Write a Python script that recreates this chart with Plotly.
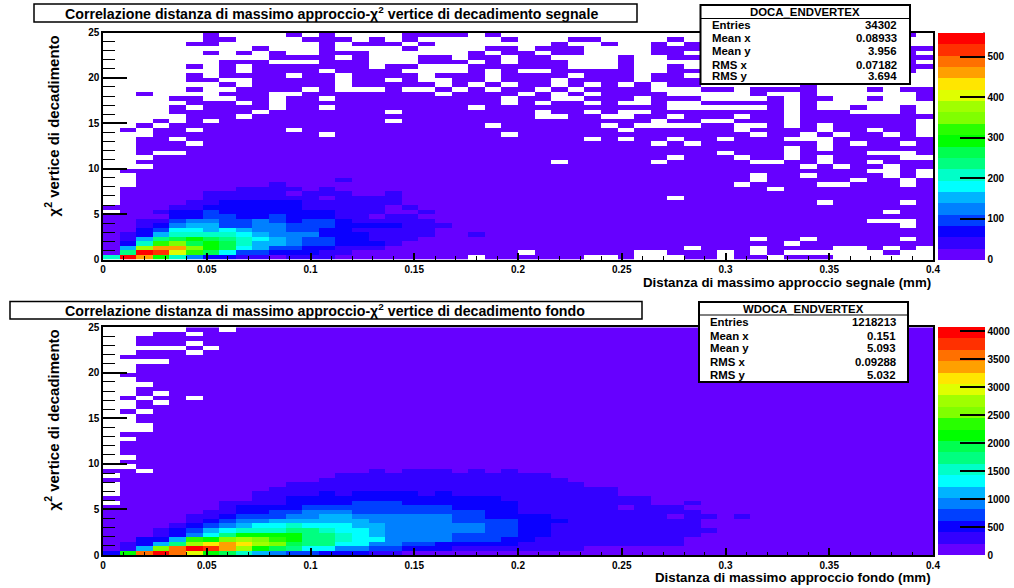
import plotly.graph_objects as go

W, H = 1014, 588
FONT = "Liberation Sans"

# Histogram bins
X_BINS = [0.004 + 0.008 * i for i in range(50)]
Y_BINS = [0.25 + 0.5 * i for i in range(50)]

# ROOT palette: one colour per contour level
PALETTE = ["#6600ff", "#3300ff", "#0a00ff", "#0040ff", "#0080ff", "#00b4ff", "#00ffff",
           "#00ffc8", "#00ff80", "#00ff50", "#00ff00", "#28ff00", "#80ff00", "#a0ff00",
           "#dfff00", "#ffe600", "#ffa000", "#ff7000", "#ff3000", "#ff0000"]
LEVELS = "0123456789abcdefghij"   # contour level per bin, "." means an empty bin

ZMAX_SIG = 560
ZMAX_BKG = 4070
TICKS_SIG = [0, 100, 200, 300, 400, 500]
TICKS_BKG = [0, 500, 1000, 1500, 2000, 2500, 3000, 3500, 4000]

# Signal histogram, top row first, 50 columns
SIGNAL_ROWS = [
    "......0....0.0...." "0000.0............" "............0.",
    "......00....000.0." "0.....0...00....0." "..............",
    ".....00......0.000" ".0.......0..0..0.0" "..............",
    ".........0...0...." "0....00.000....000" "............00",
    "......0.0.0..000.." "....0.00.00....00." "............0.",
    "..........0000.0.." ".00.00.00....0..00" "............00",
    ".......000...000.." ".000.0.000...0...." "............0.",
    ".....0.0.0000000.0" "0...000000...0..0." "............00",
    ".......0.0000.0000" "....0.0..00000..00" "............0.",
    ".....0.0000.00.000" "0.000.0000.000.00." "..............",
    ".....00..00000.00." "0..00.000.0000.000" "..............",
    ".......0.00000.000" "00.0.0.00.0.0.0.00" "......0.......",
    ".....0..0000.0...0" "..0.0.00.0.0000..." "00.0000...0.00",
    "..0....000..000000" "00.0000.0.0.0000.." "...0..0......0",
    "....00..00.00.0000" "000000.00..000.000" "....0.00..0..0",
    ".....000.0.0000000" "000000.0.00.0..0.." "00000.0.......",
    "....0.0000.00.0000" "0000.00000000000.." "....0.0..0..0.",
    "....00000.0000000." "00000000.00.0..000" "00000.000...0.",
    ".....000.000000000" "00000000..00..00.0" "00.00.00000000",
    "...0.0.0000000000." "000000000000000.00" "..000.0000000.",
    "..0.00000000000000" "00000.000000.0...." "00..0.0.00000.",
    ".0.00.00000.000000" "0000000000000.0000" "00.0000.00.00.",
    "...0000000000.0000" "000000.00000000000" "000.00.0.00.0.",
    "..00.0000000000000" "00000000000.0.00.0" "0.000...000000",
    "..000.000000000000" "000000000000000.0." "0000000.0.00.0",
    "..0000000000000000" "000000000000000000" "00000.0.000000",
    "..0..0000000000000" "000000000000000000" "0.000.0000...0",
    "...000000000000000" "0000000000000000.0" "00.00.0.0000..",
    "..0000000000000000" "000000000.00000.00" "000..00.00.000",
    "...000000000000000" "000000000000000000" "000000.0.00.00",
    ".00000000000000000" "000000000000000000" "0000000000..0.",
    "..0000000000000000" "000000000000000000" "000.00.0000.0.",
    "..0000000000001000" "000000000000000000" "000.00000.00.0",
    "..0000000010000000" "000000000000000000" "00.0000..000.0",
    ".00000001111010000" "000000000000000000" "0000.000000000",
    ".00000111110111001" "000000000000000000" "00000000000000",
    ".00000111111101111" "0000000000000000.0" "00000000000000",
    ".00001122222111111" "000000000000000000" "0000000.0000.0",
    "000011222222111110" "100000000000000000" "00000000000000",
    ".00122322222221110" "010000000000000000" "00000000000.00",
    "000022332232221101" "100000000000000000" "00000000000000",
    "001134433432332111" "110000000000000000" "0000000000...0",
    "001245533443332222" "111000000000000000" "000000000000.0",
    "002366565443322111" "110000000000000000" "00000000000000",
    "012577776544422211" "110010000000000000" "00000000000000",
    "01589a987654332211" "100000000000000000" "000.00.00000.0",
    "027bc9a97554332221" "000000000000000000" "00000.00000000",
    "05dggca96533221110" "00000000000000000." "000.0000..0.0.",
    "08jieb963322211000" "0000000.000000..00" "0.0.0......0..",
    "7jga74221101110000" "0000.000000..0...0" "0.00.000......",
]

# Background histogram, top row first; unwritten columns at the end are level 0
BACKGROUND_ROWS = [
    ".....00.", "...00.", "..", "..000.", ".....0.", "..000.", ".", "....", "..", "..",
    ".", "..", "...", "..", "..0.", ".0.00.", "..0.", "..", ".0.", "..", "..",
    "...", "...", ".", "..", ".", ".", ".", "..", ".", "..",
    "00.00000000" "00000101110101",
    ".0000000000" "00011111111111" "11",
    "00000000000" "00111111111111" "111",
    ".0000000000" "11111111111111" "1111",
    ".0000000001" "11111111111111" "111111",
    ".0000000011" "11212222121111" "111111",
    "00000000011" "22222222222221" "11111111",
    ".0000001111" "22223332222222" "11111111001",
    "00000001222" "23333333332222" "1111110111",
    "00000011223" "34443333333322" "11111111111",
    "00000112333" "44554444443322" "22111111101101",
    "00000123445" "55555444443333" "22211111111",
    "00001234566" "76665544444433" "22111111111",
    "00012356777" "88766544444433" "221111111111",
    "00012468aaa" "a8876544443333" "22111111111",
    "00225bacdcb" "a8876644443332" "2111111111",
    "01258dfgfdc" "98866443322222" "1111111111",
    "015chjigda9" "86644332221111" "1111",
    "2ahjhea9754" "33222110000000",
]

SIGNAL_STATS = [("Entries", "34302"), ("Mean x", "0.08933"), ("Mean y", "3.956"),
                ("RMS x", "0.07182"), ("RMS y", "3.694")]
BACKGROUND_STATS = [("Entries", "1218213"), ("Mean x", "0.151"), ("Mean y", "5.093"),
                    ("RMS x", "0.09288"), ("RMS y", "5.032")]

TITLE_SIG = "Correlazione distanza di massimo approccio-χ<sup>2</sup> vertice di decadimento segnale"
TITLE_BKG = "Correlazione distanza di massimo approccio-χ<sup>2</sup> vertice di decadimento fondo"
XTITLE_SIG = "Distanza di massimo approccio segnale (mm)"
XTITLE_BKG = "Distanza di massimo approccio fondo (mm)"
YTITLE = "χ<sup>2</sup> vertice di decadimento"


def px(v):
    return v / W


def py(v):
    return 1 - v / H


def decode(rows, zmax):
    step = zmax / len(PALETTE)
    grid = []
    for row in reversed(rows):
        row = row.ljust(50, "0")[:50]
        grid.append([None if c == "." else (LEVELS.index(c) + 0.5) * step for c in row])
    return grid


def stepped():
    n = len(PALETTE)
    scale = []
    for i, c in enumerate(PALETTE):
        scale += [[i / n, c], [(i + 1) / n, c]]
    return scale


bold = dict(family=FONT, color="black", weight=700)
shapes, notes = [], []


def note(text, x, y, size, xa="left", ya="middle", angle=0):
    notes.append(dict(text=text, x=px(x), y=py(y), xref="paper", yref="paper", showarrow=False,
                      xanchor=xa, yanchor=ya, textangle=angle, align="left",
                      font=dict(size=size, **bold), borderpad=0))


def rect(x0, y0, x1, y1, lw=1.5):
    shapes.append(dict(type="rect", xref="paper", yref="paper", x0=px(x0), x1=px(x1), y0=py(y0), y1=py(y1),
                       fillcolor="white", line=dict(color="black", width=lw), layer="above"))


def hline(x0, x1, y, lw=1):
    shapes.append(dict(type="line", xref="paper", yref="paper", x0=px(x0), x1=px(x1), y0=py(y), y1=py(y),
                       line=dict(color="black", width=lw), layer="above"))


def vline(x, y0, y1, lw=1.5):
    shapes.append(dict(type="line", xref="paper", yref="paper", x0=px(x), x1=px(x), y0=py(y0), y1=py(y1),
                       line=dict(color="black", width=lw), layer="above"))


fig = go.Figure()

PANELS = [
    dict(rows=SIGNAL_ROWS, zmax=ZMAX_SIG, ticks=TICKS_SIG, top=32.5, bottom=259.5, ax="", stats=SIGNAL_STATS,
         title=TITLE_SIG, xtitle=XTITLE_SIG, name="DOCA_ENDVERTEX",
         tbox=(34, 4, 637, 22), box=(700.5, 5, 910, 84), sep=18.5, rowy=[25, 38, 51.5, 64.5, 76],
         tleft=711, tright=898, xty=282, yty=35),
    dict(rows=BACKGROUND_ROWS, zmax=ZMAX_BKG, ticks=TICKS_BKG, top=327.3, bottom=555, ax="2", stats=BACKGROUND_STATS,
         title=TITLE_BKG, xtitle=XTITLE_BKG, name="WDOCA_ENDVERTEX",
         tbox=(10, 301.5, 642, 319), box=(699, 302, 908, 382), sep=315, rowy=[322, 336, 348, 362, 375],
         tleft=709, tright=897, xty=577, yty=329),
]

for p in PANELS:
    ax = p["ax"]
    fig.add_trace(go.Heatmap(
        x=X_BINS, y=Y_BINS, z=decode(p["rows"], p["zmax"]), zmin=0, zmax=p["zmax"],
        colorscale=stepped(), hoverongaps=False, xaxis="x" + ax, yaxis="y" + ax,
        colorbar=dict(
            x=px(937.5), xanchor="left", xref="paper", y=py(p["top"]), yanchor="top", yref="paper",
            lenmode="pixels", len=p["bottom"] - p["top"], thicknessmode="pixels", thickness=46.5,
            outlinewidth=0, ticks="inside", ticklen=25, tickwidth=1.5, tickcolor="black",
            tickvals=p["ticks"], ticktext=[str(t) for t in p["ticks"]], xpad=0, ypad=0,
            tickfont=dict(size=10, **bold)),
    ))
    axis_common = dict(showgrid=False, zeroline=False, showline=True, mirror=True, linecolor="black", linewidth=1.5,
                       ticks="inside", tickcolor="black", tickfont=dict(size=10, **bold))
    fig.layout["xaxis" + ax] = dict(
        axis_common, domain=[px(103), px(933)], range=[0, 0.4], anchor="y" + ax, dtick=0.05, tick0=0,
        ticklen=7, tickwidth=1.5, minor=dict(ticks="inside", ticklen=3.5, dtick=0.01, tickcolor="black", tickwidth=1))
    fig.layout["yaxis" + ax] = dict(
        axis_common, domain=[py(p["bottom"]), py(p["top"])], range=[0, 25], anchor="x" + ax, dtick=5, tick0=0,
        ticklen=24, tickwidth=1.5, minor=dict(ticks="inside", ticklen=12, dtick=1, tickcolor="black", tickwidth=1))

    vline(984, p["top"], p["bottom"])
    x0, y0, x1, y1 = p["tbox"]
    rect(x0, y0, x1, y1)
    note(p["title"], 64, (y0 + y1) / 2, 14.2)
    x0, y0, x1, y1 = p["box"]
    rect(x0, y0, x1, y1, 2)
    hline(x0, x1, p["sep"])
    note(p["name"], (x0 + x1) / 2, (y0 + p["sep"]) / 2 + 0.5, 11.4, "center")
    for (k, v), yy in zip(p["stats"], p["rowy"]):
        note(k, p["tleft"], yy, 11.4)
        note(v, p["tright"], yy, 11.4, "right")
    note(p["xtitle"], 932, p["xty"], 13.3, "right")
    note(YTITLE, 52, p["yty"], 15, "center", "top", -90)

fig.update_layout(width=W, height=H, margin=dict(l=0, r=0, t=0, b=0, autoexpand=False), autosize=False,
                  paper_bgcolor="white", plot_bgcolor="white", shapes=shapes, annotations=notes,
                  font=dict(family=FONT, color="black"), showlegend=False)
fig.write_html("out.html", config={"displayModeBar": False}, post_script="document.body.style.margin='0';")
